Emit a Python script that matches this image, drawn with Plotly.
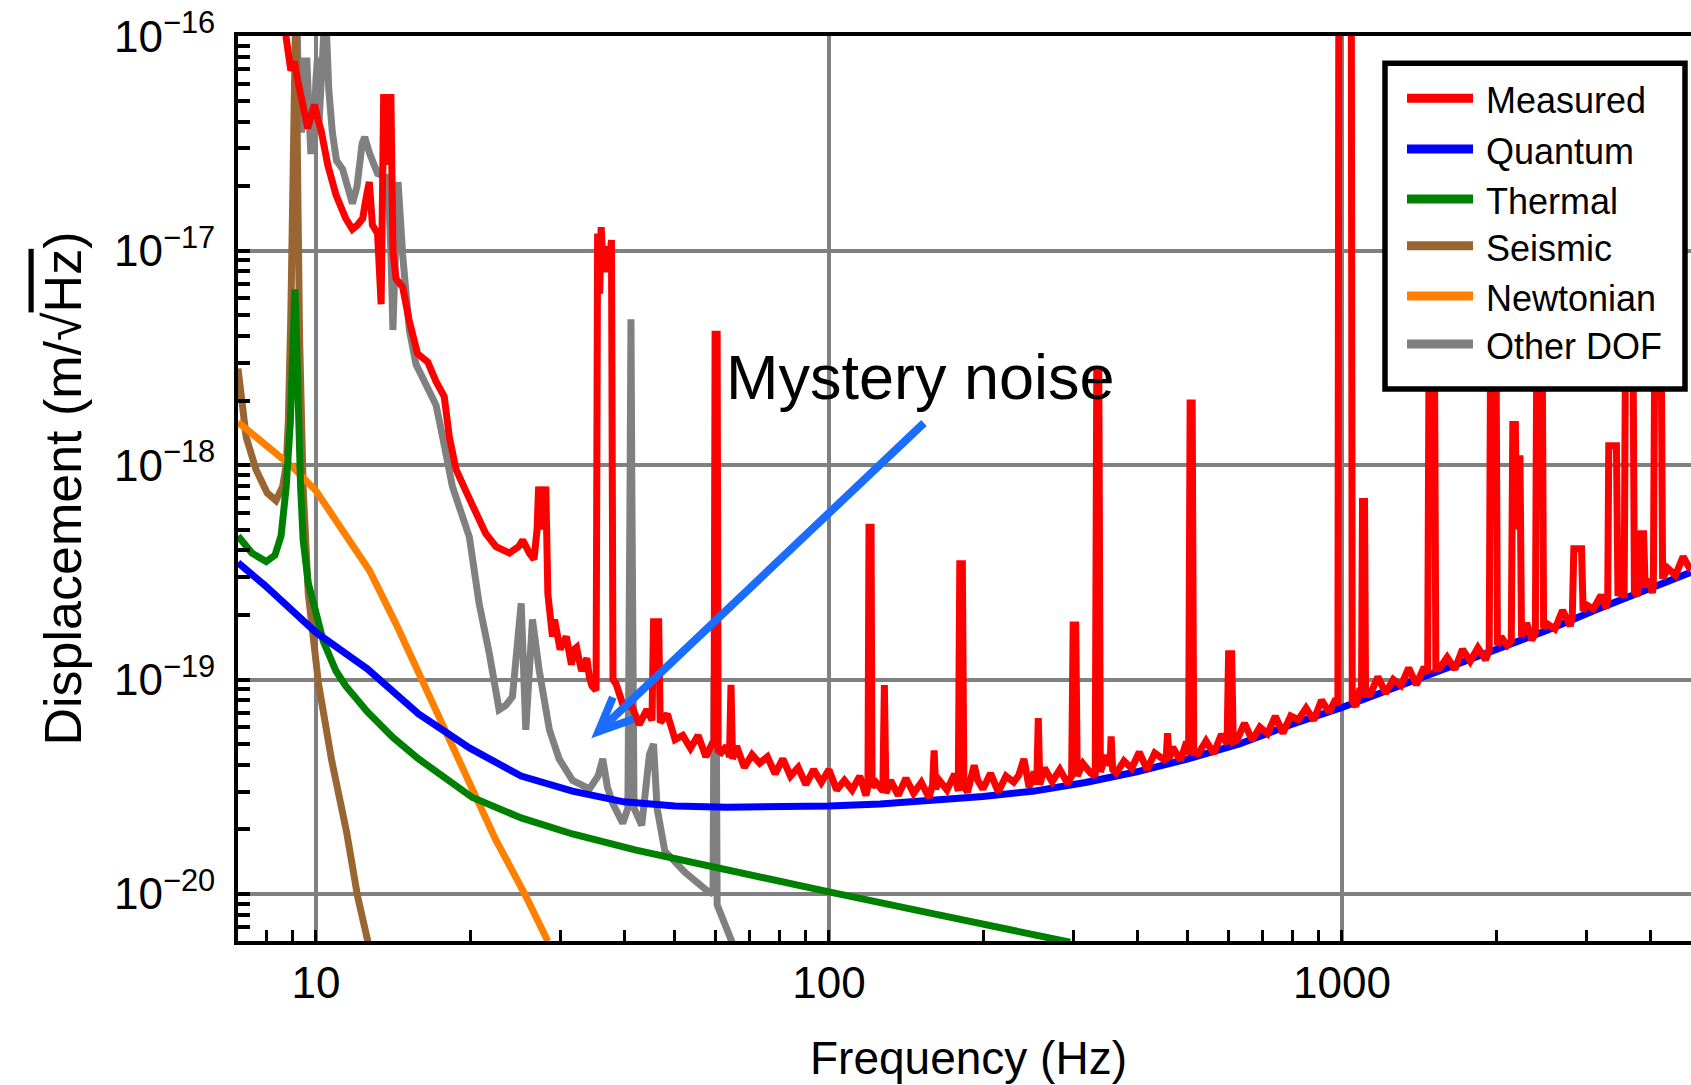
import numpy as np
import plotly.graph_objects as go

# ---------------- data ----------------
# every series: list of (log10 frequency [Hz], log10 displacement [m/sqrt(Hz)])
measured = [
    (0.935, -15.8), (0.942, -16.01), (0.951, -16.16), (0.958, -16.12), (0.964, -16.20), (0.974, -16.32),
    (0.984, -16.43), (0.992, -16.36), (0.997, -16.32), (1.003, -16.38), (1.01, -16.44),
    (1.023, -16.60), (1.039, -16.74), (1.058, -16.85), (1.071, -16.90), (1.081, -16.88),
    (1.091, -16.85), (1.098, -16.75), (1.104, -16.68), (1.11, -16.88), (1.12, -16.92),
    (1.127, -17.25), (1.132, -16.27), (1.139, -16.6), (1.146, -16.27), (1.150, -17.0), (1.156, -17.13),
    (1.169, -17.17), (1.182, -17.33), (1.198, -17.48), (1.218, -17.52), (1.234, -17.61),
    (1.25, -17.68), (1.26, -17.87), (1.273, -18.02), (1.292, -18.12), (1.312, -18.23),
    (1.331, -18.32), (1.351, -18.38), (1.377, -18.41), (1.395, -18.38), (1.403, -18.35),
    (1.416, -18.41), (1.425, -18.44), (1.431, -18.3), (1.434, -18.10), (1.441, -18.3), (1.448, -18.10),
    (1.452, -18.6), (1.461, -18.80), (1.465, -18.72), (1.471, -18.78), (1.476, -18.86),
    (1.481, -18.83), (1.488, -18.80), (1.494, -18.88), (1.498, -18.93), (1.503, -18.86),
    (1.508, -18.85), (1.513, -18.91), (1.518, -18.96), (1.523, -18.93), (1.528, -18.90),
    (1.533, -18.99), (1.538, -19.03), (1.546, -19.05),
    (1.549, -16.92), (1.553, -17.2), (1.556, -16.89), (1.560, -17.1), (1.566, -16.98),
    (1.571, -17.1), (1.576, -16.95), (1.579, -19.0),
    (1.585, -19.02), (1.600, -19.13), (1.615, -19.12), (1.630, -19.21), (1.645, -19.14),
    (1.655, -19.19), (1.658, -18.73), (1.668, -18.73), (1.671, -19.20),
    (1.685, -19.16), (1.700, -19.28), (1.715, -19.26), (1.730, -19.32), (1.745, -19.26),
    (1.760, -19.36), (1.772, -19.30),
    (1.776, -19.30), (1.778, -17.39), (1.782, -17.39), (1.784, -19.33),
    (1.790, -19.34), (1.800, -19.31),
    (1.806, -19.36), (1.809, -19.025), (1.812, -19.37),
    (1.820, -19.31), (1.835, -19.41), (1.850, -19.35), (1.865, -19.39), (1.880, -19.36),
    (1.895, -19.44), (1.910, -19.37), (1.925, -19.45), (1.940, -19.41), (1.955, -19.49),
    (1.970, -19.42), (1.985, -19.48), (2.000, -19.42), (2.015, -19.515), (2.030, -19.47),
    (2.045, -19.515), (2.060, -19.45), (2.072, -19.54),
    (2.076, -19.50), (2.078, -18.29), (2.082, -18.29), (2.084, -19.50),
    (2.092, -19.48), (2.100, -19.51),
    (2.105, -19.52), (2.108, -19.025), (2.111, -19.53),
    (2.120, -19.47), (2.135, -19.54), (2.150, -19.46), (2.165, -19.53), (2.180, -19.48),
    (2.195, -19.55),
    (2.202, -19.49), (2.205, -19.33), (2.208, -19.51),
    (2.215, -19.47), (2.230, -19.515), (2.245, -19.44),
    (2.252, -19.52), (2.255, -18.46), (2.260, -18.46), (2.263, -19.50),
    (2.270, -19.525), (2.283, -19.40), (2.290, -19.47), (2.300, -19.51), (2.315, -19.437),
    (2.330, -19.524), (2.345, -19.45), (2.360, -19.478), (2.370, -19.446), (2.380, -19.37),
    (2.390, -19.502), (2.400, -19.43),
    (2.405, -19.49), (2.408, -19.18), (2.411, -19.49),
    (2.420, -19.412), (2.435, -19.476), (2.450, -19.42), (2.465, -19.484),
    (2.473, -19.45), (2.476, -18.745), (2.481, -18.745), (2.484, -19.45),
    (2.495, -19.392), (2.510, -19.436),
    (2.519, -19.45), (2.522, -17.57), (2.526, -17.57), (2.529, -19.43),
    (2.540, -19.354), (2.548, -19.40), (2.550, -19.265), (2.553, -19.42),
    (2.560, -19.436), (2.575, -19.38), (2.590, -19.414), (2.605, -19.338), (2.620, -19.42),
    (2.635, -19.343), (2.650, -19.365),
    (2.657, -19.38), (2.660, -19.25), (2.663, -19.37),
    (2.670, -19.315), (2.685, -19.378), (2.697, -19.29),
    (2.701, -19.35), (2.704, -17.71), (2.708, -17.71), (2.711, -19.34),
    (2.720, -19.346), (2.735, -19.286), (2.750, -19.345), (2.765, -19.255),
    (2.776, -19.30), (2.779, -18.88), (2.785, -18.88), (2.788, -19.29),
    (2.795, -19.284), (2.810, -19.203), (2.825, -19.283), (2.840, -19.222), (2.855, -19.252),
    (2.870, -19.171), (2.885, -19.25), (2.900, -19.17), (2.915, -19.187), (2.930, -19.133),
    (2.945, -19.19), (2.960, -19.096), (2.975, -19.153), (2.988, -19.09),
    (2.992, -19.12), (2.994, -15.5), (3.018, -15.5), (3.020, -19.10),
    (3.027, -19.126), (3.035, -19.04),
    (3.038, -19.08), (3.040, -18.17), (3.044, -18.17), (3.046, -19.07),
    (3.055, -19.07), (3.070, -18.987), (3.085, -19.064), (3.100, -19.00), (3.115, -19.028),
    (3.130, -18.946), (3.145, -19.024), (3.160, -18.942),
    (3.167, -18.97), (3.170, -17.3), (3.180, -17.3), (3.183, -18.95),
    (3.190, -18.948), (3.205, -18.896), (3.220, -18.952), (3.235, -18.859), (3.250, -18.915),
    (3.265, -18.852), (3.280, -18.908),
    (3.287, -18.86), (3.290, -17.3), (3.300, -17.3), (3.303, -18.84),
    (3.310, -18.801), (3.322, -18.84),
    (3.330, -18.82), (3.333, -17.81), (3.338, -17.81), (3.340, -18.3), (3.342, -17.97),
    (3.347, -17.97), (3.350, -18.80),
    (3.360, -18.736), (3.370, -18.817),
    (3.377, -18.78), (3.380, -17.3), (3.390, -17.3), (3.393, -18.76),
    (3.400, -18.74), (3.415, -18.764), (3.430, -18.677), (3.445, -18.75),
    (3.449, -18.70), (3.452, -18.39), (3.467, -18.39), (3.470, -18.68),
    (3.478, -18.654), (3.490, -18.671), (3.505, -18.606), (3.515, -18.667),
    (3.518, -18.63), (3.520, -17.91), (3.535, -17.91), (3.538, -18.61),
    (3.545, -18.56),
    (3.550, -18.62), (3.553, -17.3), (3.567, -17.3), (3.570, -18.59),
    (3.575, -18.608),
    (3.578, -18.58), (3.580, -18.32), (3.588, -18.32), (3.591, -18.57),
    (3.598, -18.532), (3.605, -18.596),
    (3.607, -18.56), (3.610, -17.3), (3.622, -17.3), (3.625, -18.53),
    (3.635, -18.481), (3.650, -18.514), (3.665, -18.427), (3.680, -18.49),
]

quantum = [
    (0.848, -18.455), (0.9, -18.56), (1.0, -18.78), (1.1, -18.95), (1.2, -19.16), (1.3, -19.32),
    (1.4, -19.45), (1.5, -19.52), (1.6, -19.57), (1.7, -19.59), (1.8, -19.595), (1.9, -19.595),
    (2.0, -19.59), (2.1, -19.58), (2.2, -19.565), (2.3, -19.545), (2.4, -19.52), (2.5, -19.48),
    (2.6, -19.43), (2.7, -19.37), (2.8, -19.30), (2.9, -19.21), (3.0, -19.13), (3.1, -19.04),
    (3.2, -18.95), (3.3, -18.86), (3.4, -18.77), (3.5, -18.67), (3.6, -18.58), (3.68, -18.50),
]

thermal = [
    (0.848, -18.33), (0.875, -18.41), (0.903, -18.45), (0.92, -18.42), (0.932, -18.33),
    (0.942, -18.1), (0.95, -17.8), (0.956, -17.4), (0.959, -17.18), (0.962, -17.4),
    (0.966, -17.8), (0.97, -18.1), (0.975, -18.35), (0.985, -18.55), (0.997, -18.66),
    (1.014, -18.82), (1.039, -18.96), (1.058, -19.03), (1.1, -19.15), (1.15, -19.27),
    (1.2, -19.37), (1.25, -19.455), (1.305, -19.55), (1.4, -19.645), (1.5, -19.72),
    (1.624, -19.795), (1.8, -19.89), (2.0, -19.99), (2.2, -20.09), (2.47, -20.225),
]

seismic = [
    (0.848, -17.55), (0.855, -17.7), (0.864, -17.87), (0.883, -18.02), (0.905, -18.13),
    (0.922, -18.165), (0.935, -18.1), (0.942, -18.0), (0.946, -17.8), (0.951, -17.3),
    (0.955, -16.6), (0.958, -15.8), (0.961, -15.8), (0.964, -16.6), (0.968, -17.4),
    (0.975, -18.1), (0.985, -18.6), (1.005, -19.02), (1.03, -19.37), (1.06, -19.715),
    (1.081, -20.01), (1.102, -20.23),
]

newtonian = [
    (0.848, -17.80), (0.883, -17.87), (0.955, -18.01), (1.0, -18.12), (1.052, -18.30),
    (1.104, -18.49), (1.156, -18.74), (1.208, -19.01), (1.253, -19.25), (1.30, -19.49),
    (1.35, -19.745), (1.407, -20.0), (1.452, -20.22),
]

other_dof = [
    (0.963, -15.9), (0.966, -16.3), (0.969, -16.1), (0.972, -16.45), (0.975, -16.2),
    (0.978, -16.35), (0.982, -16.1), (0.985, -16.3), (0.988, -16.5), (0.99, -16.55),
    (0.993, -16.3), (0.996, -16.45), (1.0, -16.2), (1.003, -16.1), (1.006, -16.4),
    (1.008, -16.3), (1.012, -16.1), (1.015, -16.0), (1.02, -15.95), (1.025, -16.25),
    (1.032, -16.45), (1.04, -16.58), (1.052, -16.62),
    (1.062, -16.72), (1.071, -16.78), (1.08, -16.7), (1.09, -16.5), (1.095, -16.47),
    (1.105, -16.55), (1.12, -16.64), (1.14, -16.66), (1.146, -17.0), (1.15, -17.37),
    (1.155, -17.0), (1.16, -16.68), (1.169, -17.02), (1.182, -17.37), (1.195, -17.53),
    (1.214, -17.62), (1.234, -17.72), (1.247, -17.87), (1.266, -18.10), (1.299, -18.335),
    (1.318, -18.645), (1.338, -18.88), (1.357, -19.14), (1.37, -19.12), (1.383, -19.08),
    (1.40, -18.645), (1.409, -19.234), (1.422, -18.72), (1.435, -18.955), (1.455, -19.234),
    (1.474, -19.37), (1.50, -19.47), (1.533, -19.51), (1.55, -19.45), (1.559, -19.37),
    (1.568, -19.5), (1.578, -19.575), (1.598, -19.67), (1.608, -19.6), (1.612, -18.2),
    (1.614, -17.32), (1.616, -18.2), (1.62, -19.6), (1.635, -19.68), (1.65, -19.35),
    (1.658, -19.3), (1.665, -19.6), (1.68, -19.8), (1.72, -19.9), (1.76, -19.98),
    (1.774, -20.0), (1.776, -19.0), (1.780, -19.0), (1.782, -20.05), (1.795, -20.12),
    (1.812, -20.23),
]

series_names = ["Measured", "Quantum", "Thermal", "Seismic", "Newtonian", "Other DOF"]
series_colors = ["#ff0000", "#0000ff", "#008000", "#996633", "#ff8000", "#808080"]
series_data = [measured, quantum, thermal, seismic, newtonian, other_dof]

x_tick_values = [10, 100, 1000]
x_tick_labels = ["10", "100", "1000"]
y_tick_exponents = [-20, -19, -18, -17, -16]

annotation_text = "Mystery noise"
x_title = "Frequency (Hz)"
y_title = "Displacement (m/√<span style='text-decoration:overline'>Hz</span>)"

# ---------------- geometry ----------------
W, H = 1691, 1085
L, R, T, B = 238, 1691, 36, 941
FONT = "Liberation Sans, Arial, sans-serif"


def pp(x, y):
    """pixel -> paper coordinates"""
    return (x - L) / (R - L), (B - y) / (B - T)


fig = go.Figure()

# draw order: other DOF at the back, measured on top
draw_order = [5, 3, 4, 2, 1, 0]
for i in draw_order:
    d = np.array(series_data[i])
    fig.add_trace(go.Scatter(
        x=10 ** d[:, 0], y=10 ** d[:, 1], mode="lines", name=series_names[i],
        line=dict(color=series_colors[i], width=7),
        showlegend=False, hoverinfo="skip"))

minor_x = [m * 10 ** e for e in range(0, 4) for m in range(2, 10)]
minor_x = [v for v in minor_x if 7.0 < v < 4790 and v not in (10, 100, 1000)]
minor_y = [m * 10.0 ** e for e in range(-21, -16) for m in range(2, 10)]

fig.update_xaxes(
    type="log", range=[0.848, 0.848 + (R - L) / 513.0],
    showline=True, linecolor="black", linewidth=4, mirror=True,
    ticks="inside", ticklen=11, tickwidth=3, tickcolor="black",
    tickmode="array", tickvals=x_tick_values, ticktext=x_tick_labels,
    showgrid=True, gridcolor="#808080", gridwidth=3.5, zeroline=False,
    minor=dict(tickmode="array", tickvals=minor_x, ticks="inside", ticklen=11,
               tickwidth=3, tickcolor="black", showgrid=False),
    tickfont=dict(family=FONT, size=44, color="black"), ticklabelstandoff=0,
)
fig.update_yaxes(
    type="log", range=[-20.219, -15.999],
    showline=True, linecolor="black", linewidth=4, mirror=False,
    ticks="inside", ticklen=12, tickwidth=3.5, tickcolor="black",
    tickmode="array", tickvals=[10.0 ** e for e in y_tick_exponents],
    ticktext=["10<sup>\u2212%d</sup>" % (-e) for e in y_tick_exponents],
    showgrid=True, gridcolor="#808080", gridwidth=3.5, zeroline=False,
    minor=dict(tickmode="array", tickvals=minor_y, ticks="inside", ticklen=12,
               tickwidth=3.5, tickcolor="black", showgrid=False),
    tickfont=dict(family=FONT, size=44, color="black"), ticklabelstandoff=10,
)

shapes = []
annotations = []

# ---- manual legend ----
bx0, by1 = pp(1385, 63.3)
bx1, by0 = pp(1685, 389)
shapes.append(dict(type="rect", xref="paper", yref="paper", x0=bx0, x1=bx1, y0=by0, y1=by1,
                   fillcolor="white", line=dict(color="black", width=5.5), layer="above"))
row_y = [98.3, 149, 199, 245.7, 296, 344]
for name, col, ry in zip(series_names, series_colors, row_y):
    lx0, ly = pp(1407, ry)
    lx1, _ = pp(1473, ry)
    shapes.append(dict(type="line", xref="paper", yref="paper", x0=lx0, x1=lx1, y0=ly, y1=ly,
                       line=dict(color=col, width=9), layer="above"))
    tx, ty = pp(1484, ry + 2.5)
    annotations.append(dict(xref="paper", yref="paper", x=tx, y=ty, xanchor="left", yanchor="middle",
                            text=name, showarrow=False, font=dict(family=FONT, size=36, color="black")))

# ---- arrow (shaft + open head) ----
tail = (924, 423)
tip = (598.5, 731.5)
d = np.array(tip) - np.array(tail)
u = d / np.linalg.norm(d)
n = np.array([-u[1], u[0]])
back = np.array(tip) - 34 * u
arm1 = back + 15 * n
arm2 = back - 15 * n
shaft_end = np.array(tip) - 4 * u
p = lambda q: "%.5f %.5f" % pp(q[0], q[1])
path = "M %s L %s M %s L %s L %s" % (p(tail), p(shaft_end), p(arm1), p(tip), p(arm2))
shapes.append(dict(type="path", xref="paper", yref="paper", path=path,
                   line=dict(color="#1a6dff", width=8), layer="above"))

# ---- text annotations ----
ax_, ay_ = pp(920, 377)
annotations.append(dict(xref="paper", yref="paper", x=ax_, y=ay_, xanchor="center", yanchor="middle",
                        text=annotation_text, showarrow=False, font=dict(family=FONT, size=63, color="black")))
xt, yt = pp(968, 1058)
annotations.append(dict(xref="paper", yref="paper", x=xt, y=yt, xanchor="center", yanchor="middle",
                        text=x_title, showarrow=False, font=dict(family=FONT, size=46, color="black")))
yx, yy = pp(62, 488.5)
annotations.append(dict(xref="paper", yref="paper", x=yx, y=yy, xanchor="center", yanchor="middle",
                        text=y_title, textangle=-90, showarrow=False,
                        font=dict(family=FONT, size=52, color="black")))

fig.update_layout(
    width=W, height=H, autosize=False,
    margin=dict(l=L, r=W - R, t=T, b=H - B, pad=0),
    paper_bgcolor="white", plot_bgcolor="white",
    shapes=shapes, annotations=annotations, showlegend=False,
    font=dict(family=FONT, color="black"),
)

fig.write_html("out.html")
